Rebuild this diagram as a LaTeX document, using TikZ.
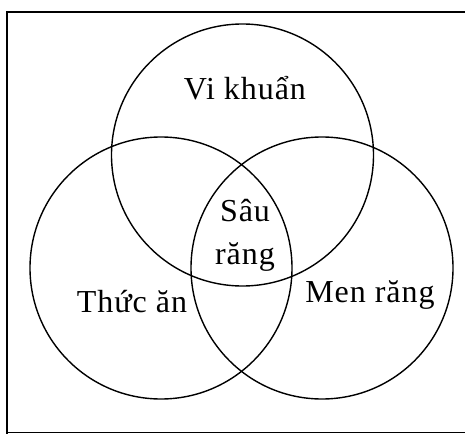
\documentclass[tikz,border=0pt]{standalone}
\usepackage{fontspec}
\setmainfont{Liberation Serif}[LetterSpace=3]
\usepackage{tikz}
\usepackage{xcolor}

\begin{document}
\begin{tikzpicture}[x=1pt,y=-1pt,
  vong/.style={line width=1.4pt},
  chu/.style={font=\fontsize{32}{43}\selectfont, inner sep=0pt}]
\useasboundingbox (0,0) rectangle (465,433);
% khung
\draw[line width=2pt] (7,440) -- (7,12) -- (470,12);
\draw[line width=1pt] (7,432) -- (470,432);
% ba vong tron
\draw[vong] (242.5,155) circle (131);
\draw[vong] (161,268) circle (131);
\draw[vong] (322,268) circle (131);
% nhan
\node[chu] (vikhuan) at (245,88) {Vi khuẩn};
\node[chu, align=center] (saurang) at (245,235) {Sâu\\răng};
\node[chu] (thucan) at (132,302) {Thức ăn};
\node[chu] (menrang) at (370,295) {Men răng};
\end{tikzpicture}
\end{document}
